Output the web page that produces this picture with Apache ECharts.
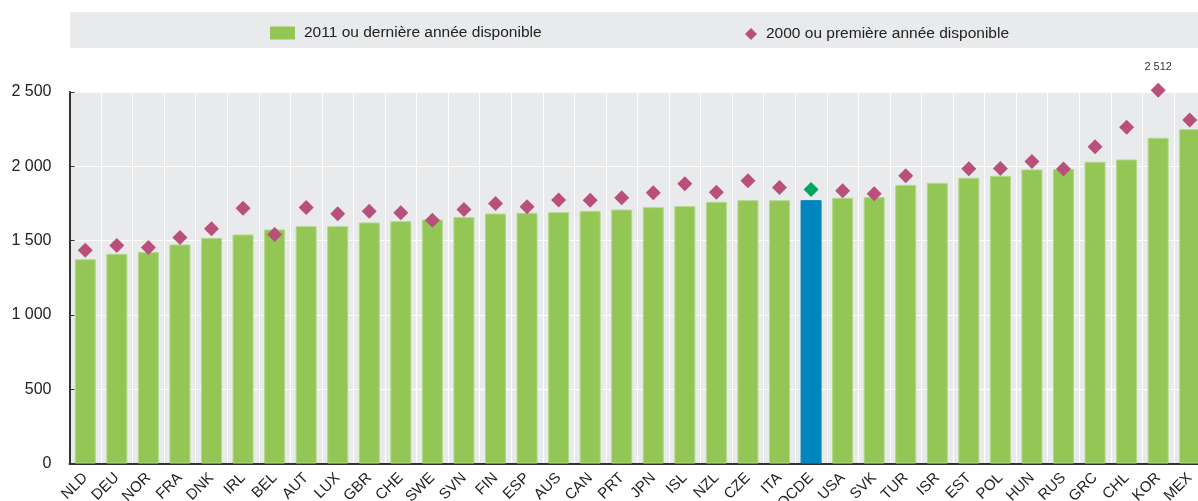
<!DOCTYPE html>
<html><head><meta charset="utf-8">
<script src="https://cdn.jsdelivr.net/npm/echarts@6/dist/echarts.min.js"></script>
<style>html,body{margin:0;padding:0;background:#fff}#c{width:1198px;height:501px}</style>
</head><body><div id="c"></div>
<script>
const categories = ['NLD','DEU','NOR','FRA','DNK','IRL','BEL','AUT','LUX','GBR','CHE','SWE','SVN','FIN','ESP','AUS','CAN','PRT','JPN','ISL','NZL','CZE','ITA','OCDE','USA','SVK','TUR','ISR','EST','POL','HUN','RUS','GRC','CHL','KOR','MEX'];
const values2011 = [1375,1411,1424,1474,1518,1541,1575,1597,1597,1622,1631,1642,1658,1682,1687,1691,1700,1709,1725,1732,1761,1772,1772,1772,1788,1792,1875,1889,1923,1936,1979,1981,2031,2046,2192,2250];
const values2000 = [1435,1467,1453,1521,1579,1718,1541,1723,1680,1698,1687,1637,1709,1750,1727,1774,1772,1788,1822,1883,1826,1902,1857,1844,1835,1815,1936,null,1983,1985,2033,1981,2132,2262,2512,2311];
const seriesNames = ['2011 ou dernière année disponible','2000 ou première année disponible'];
const labelledPoint = 'KOR';

const FONT = '"Liberation Sans",Arial,sans-serif';
const fmt = v => String(v).replace(/\B(?=(\d{3})+(?!\d))/g, ' ');

const barData = values2011.map((v,i)=> categories[i]==='OCDE'
  ? {value:v, itemStyle:{color:'#0085BF', borderColor:'#0085BF'}} : v);
const dotData = values2000.map((v,i)=> {
  if (v===null) return '-';
  if (categories[i]==='OCDE') return {value:v, itemStyle:{color:'#00A65D'}};
  if (categories[i]===labelledPoint) return {value:v, label:{show:true, position:'top', distance:10, formatter:()=>fmt(v), fontSize:11, color:'#333', fontFamily:FONT}};
  return v;
});

const chart = echarts.init(document.getElementById('c'), null, {renderer:'canvas'});
chart.setOption({
  animation:false,
  textStyle:{fontFamily:FONT},
  graphic:[{type:'rect', left:70, top:12, shape:{width:1128, height:36}, style:{fill:'#E9EAEC'}, z:-1}],
  legend:[
    {data:[{name:seriesNames[0], icon:'rect', itemStyle:{color:'#93C655', borderWidth:0}}], left:265, top:20, itemWidth:25, itemHeight:13, itemGap:0,
      textStyle:{fontSize:15.5, color:'#222', fontFamily:FONT, padding:[0,0,0,4]}},
    {data:[{name:seriesNames[1], icon:'diamond', itemStyle:{color:'#B9507B', borderWidth:0}}], left:740, top:21, itemWidth:12, itemHeight:12,
      textStyle:{fontSize:15.5, color:'#222', fontFamily:FONT, padding:[0,0,0,4]}}
  ],
  grid:{left:69.5, right:-7.5, top:92, bottom:37.5, outerBoundsMode:'none', containLabel:false,
    show:true, backgroundColor:'#E9EAEC', borderWidth:0},
  xAxis:{type:'category', data:categories, boundaryGap:true,
    axisLine:{lineStyle:{color:'#333', width:2}},
    axisTick:{inside:true, length:5, lineStyle:{color:'#333'}},
    splitLine:{show:true, lineStyle:{color:'#fff', width:1}},
    axisLabel:{rotate:45, fontSize:15, color:'#222', margin:12, interval:0, fontFamily:FONT}},
  yAxis:{type:'value', min:0, max:2500, interval:500,
    axisLine:{show:true, lineStyle:{color:'#333', width:2}},
    axisTick:{show:true, inside:true, length:5, lineStyle:{color:'#333'}},
    splitLine:{show:true, lineStyle:{color:'#fff', width:1}},
    axisLabel:{formatter:fmt, fontSize:16, color:'#222', margin:18, fontFamily:FONT}},
  series:[
    {name:seriesNames[0], type:'bar', data:barData, barWidth:21,
      itemStyle:{color:'#93C655', borderColor:'#B3D88A', borderWidth:1}},
    {name:seriesNames[1], type:'scatter', data:dotData, symbol:'diamond', symbolSize:15, clip:false, z:5,
      itemStyle:{color:'#B9507B', opacity:1}}
  ]
});
</script></body></html>
